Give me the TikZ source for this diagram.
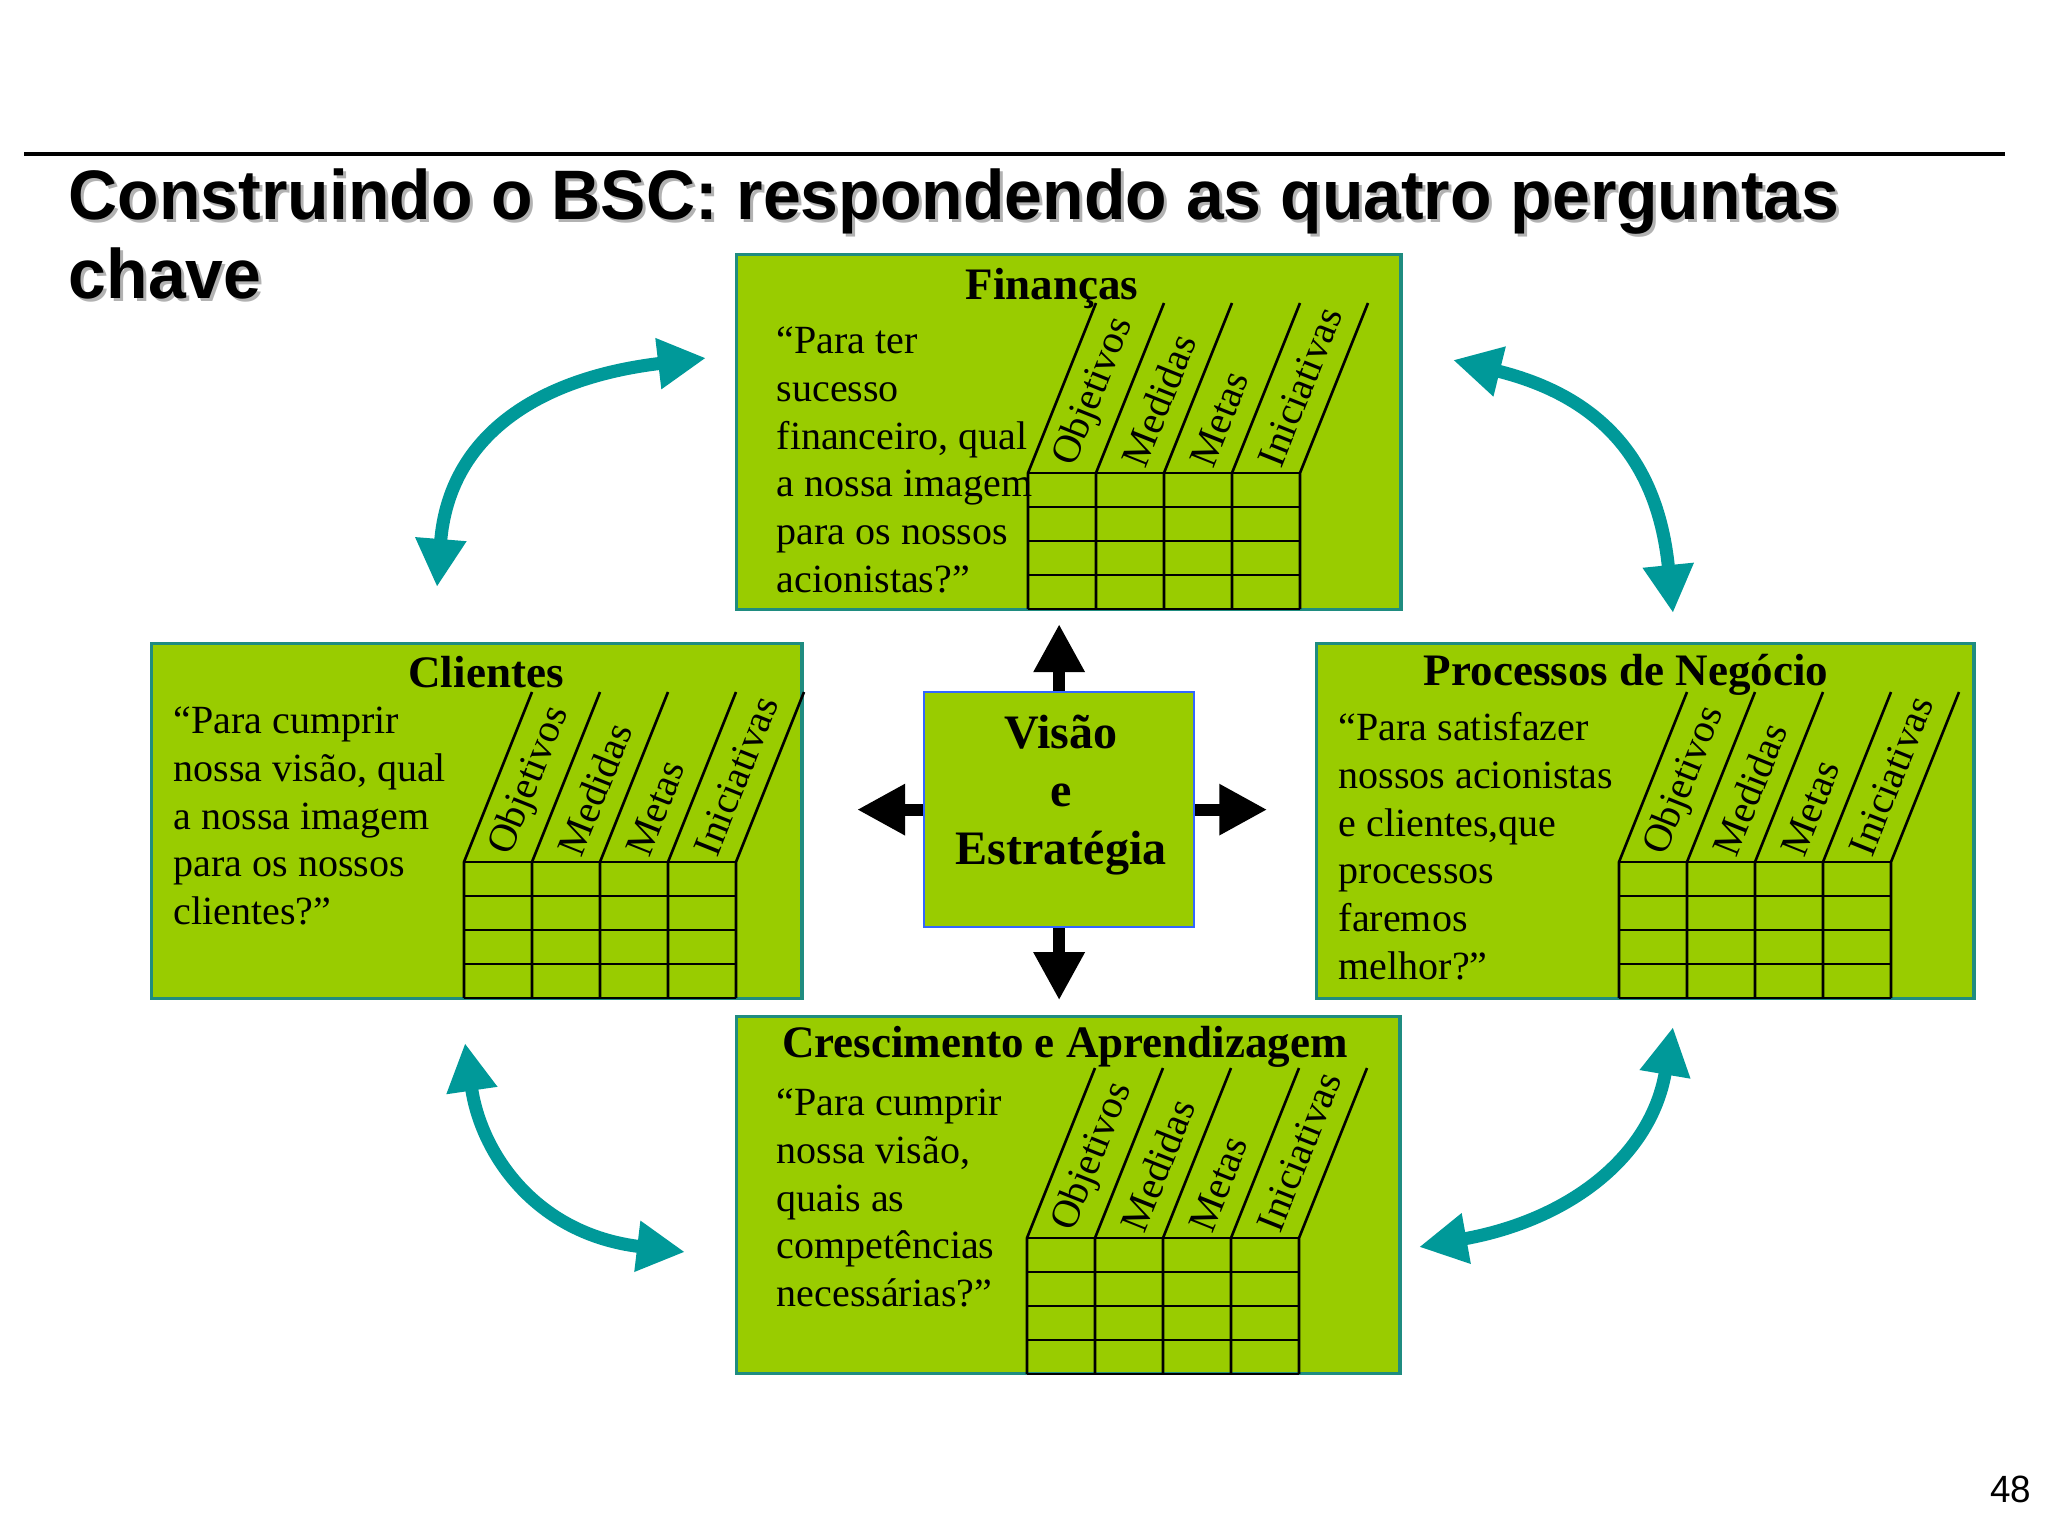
\documentclass[tikz,border=0pt]{standalone}
\usepackage{fontspec}
\setmainfont{Liberation Serif}
\newfontfamily\slidesans{Liberation Sans}[FakeStretch=0.97]
\usepackage{xcolor}
\usepackage{tikz}
\usetikzlibrary{arrows.meta,calc,positioning}

\definecolor{bscgreen}{RGB}{153,204,0}
\definecolor{bscteal}{RGB}{31,140,128}
\definecolor{arrowteal}{RGB}{0,153,153}
\definecolor{visblue}{RGB}{51,102,255}

\tikzset{
  persp/.style={draw=bscteal,line width=0.9pt,fill=bscgreen,anchor=north west,inner sep=0pt},
  heading/.style={anchor=base,inner sep=0pt,font=\fontsize{12.8}{15.4}\selectfont\bfseries},
  question/.style={anchor=north west,align=left,inner sep=0pt,font=\fontsize{11.38}{13.57}\selectfont},
  collab/.style={rotate=68.2,anchor=west,inner sep=0pt,font=\fontsize{11.38}{13.57}\selectfont},
  gridline/.style={line width=0.75pt},
  cycle arrow/.style={draw=arrowteal,line width=0.13cm,{Triangle[width=0.48cm,length=0.48cm]}-{Triangle[width=0.48cm,length=0.48cm]}},
  out arrow/.style={draw=black,line width=0.12cm,-{Triangle[width=0.48cm,length=0.48cm]}}
}

% grid of a perspective: name, top-left x, top-left y
\newcommand{\bscgrid}[3]{
  \foreach \j in {0,...,4}
    \draw[gridline] (#2,{#3+34*\j}) -- ({#2+272},{#3+34*\j});
  \foreach \i in {0,...,4}{
    \draw[gridline] ({#2+68*\i},{#3+136}) -- ({#2+68*\i},#3) -- ++(68,-170);
  }
  \foreach \lab [count=\i from 0] in {Objetivos,Medidas,Metas,Iniciativas}
    \node[collab] (#1-\i) at ({#2+68*\i+37},{#3-8}) {\lab};
}

\begin{document}
\begin{tikzpicture}[x=0.01cm,y=-0.01cm]
\useasboundingbox (0,0) rectangle (2048,1536);
\fill[white] (0,0) rectangle (2048,1536);

\draw[line width=1.15pt] (24,154) -- (2005,154);
\node[anchor=north west,align=left,inner sep=0pt,text=gray!60,font=\fontsize{19.92}{22.48}\selectfont\slidesans\bfseries]
  (titleshadow) at (71,166) {\strut Construindo o BSC: respondendo as quatro perguntas\\chave};
\node[anchor=north west,align=left,inner sep=0pt,font=\fontsize{19.92}{22.48}\selectfont\slidesans\bfseries]
  (title) at (68,163) {\strut Construindo o BSC: respondendo as quatro perguntas\\chave};

\node[persp,minimum width=6.64cm,minimum height=3.55cm] (fin) at (735,253) {};
\node[persp,minimum width=6.50cm,minimum height=3.55cm] (cli) at (150,642) {};
\node[persp,minimum width=6.57cm,minimum height=3.55cm] (pro) at (1315,642) {};
\node[persp,minimum width=6.63cm,minimum height=3.57cm] (cre) at (735,1015) {};
\node[draw=visblue,line width=0.6pt,fill=bscgreen,anchor=north west,inner sep=0pt,
  minimum width=2.70cm,minimum height=2.35cm] (vis) at (923,691) {};

\node[heading] (finhead) at (1052,299) {Finanças};
\node[heading] (clihead) at (486,687) {Clientes};
\node[heading] (prohead) at (1626,685) {Processos de Negócio};
\node[heading] (crehead) at (1065,1057) {Crescimento e Aprendizagem};

\node[question] (finq) at (776,319.6) {\strut “Para ter\\sucesso\\financeiro, qual\\a nossa imagem\\para os nossos\\acionistas?”};
\node[question] (cliq) at (173,699.6) {\strut “Para cumprir\\nossa visão, qual\\a nossa imagem\\para os nossos\\clientes?”};
\node[question] (proq) at (1338,706.6) {\strut “Para satisfazer\\nossos acionistas\\e clientes,que\\processos\\faremos\\melhor?”};
\node[question] (creq) at (776,1081.6) {\strut “Para cumprir\\nossa visão,\\quais as\\competências\\necessárias?”};

\bscgrid{fing}{1028}{473}
\bscgrid{clig}{464}{862}
\bscgrid{prog}{1619}{862}
\bscgrid{creg}{1027}{1238}

\node[anchor=north,align=center,inner sep=0pt,font=\fontsize{13.66}{16.5}\selectfont\bfseries]
  (vistext) at (1061,707.4) {\strut Visão\\e\\Estratégia};

\coordinate (uptip) at ($(vis.north)+(0,-67)$);
\coordinate (downtip) at ($(vis.south)+(0,72)$);
\coordinate (lefttip) at ($(vis.west)+(-66,0)$);
\coordinate (righttip) at ($(vis.east)+(72,0)$);
\draw[out arrow] (vis.north) -- (uptip);
\draw[out arrow] (vis.south) -- (downtip);
\draw[out arrow] (vis.west) -- (lefttip);
\draw[out arrow] (vis.east) -- (righttip);

\coordinate (tlA) at (437,587);
\coordinate (tlB) at (706,358);
\coordinate (trA) at (1453,360);
\coordinate (trB) at (1673,613);
\coordinate (blA) at (465,1043);
\coordinate (blB) at (685,1252);
\coordinate (brA) at (1673,1027);
\coordinate (brB) at (1419,1247);
\draw[cycle arrow] (tlA) .. controls (449,437) and (536,378) .. (tlB);
\draw[cycle arrow] (trA) .. controls (1603,397) and (1658,463) .. (trB);
\draw[cycle arrow] (blA) .. controls (481,1153) and (535,1234) .. (blB);
\draw[cycle arrow] (brA) .. controls (1651,1157) and (1569,1220) .. (brB);

\node[anchor=base east,inner sep=0pt,font=\fontsize{10.8}{13}\selectfont\slidesans] (pagenum) at (2032,1502) {48};
\end{tikzpicture}
\end{document}
